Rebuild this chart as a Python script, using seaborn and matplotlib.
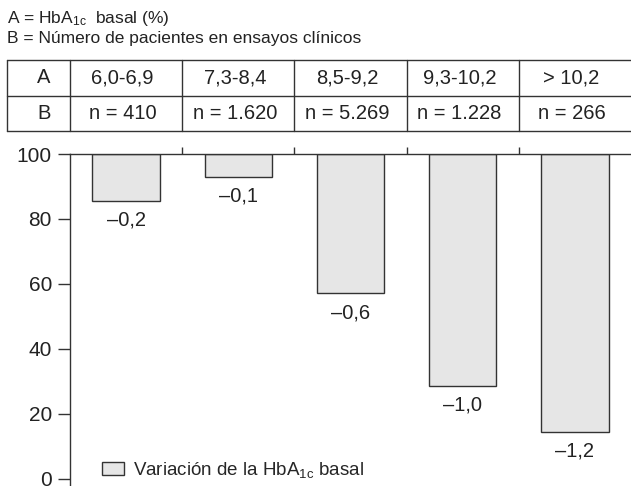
import matplotlib
matplotlib.use("Agg")
import matplotlib.pyplot as plt
import seaborn as sns
import pandas as pd

# values
hba1c_ranges = ["6,0-6,9", "7,3-8,4", "8,5-9,2", "9,3-10,2", "> 10,2"]
n_patients = ["n = 410", "n = 1.620", "n = 5.269", "n = 1.228", "n = 266"]
bar_bottom = [85.6, 92.9, 57.1, 28.6, 14.4]   # where each hanging bar ends
variation = ["\u20130,2", "\u20130,1", "\u20130,6", "\u20131,0", "\u20131,2"]

df = pd.DataFrame({"grupo": hba1c_ranges,
                   "delta": [b - 100 for b in bar_bottom]})

sns.set_style("ticks")
plt.rcParams["font.family"] = ["Liberation Sans", "DejaVu Sans"]
plt.rcParams["mathtext.default"] = "regular"
dark = "#333333"
txt = "#222222"

fig = plt.figure(figsize=(6.31, 4.86), dpi=100)
W, H = 631, 486

# main axes: left spine at x=70, y=100 at 154px, y=0 at 479px
ax = fig.add_axes([70 / W, 0, 1 - 70 / W, (H - 154) / H])
sns.barplot(data=df, x="grupo", y="delta", bottom=100, width=0.6,
            color="#e6e6e6", edgecolor=dark, linewidth=1.0, saturation=1,
            label="Variación de la HbA$_{1c}$ basal", ax=ax)

ax.set_xlim(-0.5, 4.5)
ax.set_ylim(-2.2, 100)
ax.set_yticks([0, 20, 40, 60, 80, 100])
ax.tick_params(axis="y", labelsize=15, length=9, width=1, color=dark,
               labelcolor=txt, pad=4)
ax.xaxis.tick_top()
ax.set_xticks([0.5, 1.5, 2.5, 3.5])
ax.set_xticklabels([])
ax.tick_params(axis="x", length=5, width=1, color=dark)
ax.set_xlabel("")
ax.set_ylabel("")
for s in ["bottom", "right"]:
    ax.spines[s].set_visible(False)
for s in ["left", "top"]:
    ax.spines[s].set_color(dark)
    ax.spines[s].set_linewidth(1)

ax.bar_label(ax.containers[0], labels=variation, padding=7, fontsize=14.5,
             color=txt)

ax.legend(frameon=False, loc="center left", bbox_to_anchor=(0.057, 0.048),
          borderpad=0, borderaxespad=0, handlelength=1.2, handleheight=0.75,
          handletextpad=0.45, fontsize=13.5)

# table above the chart, sharing the category positions
left_col = -0.5 - 63 / 112.2
axt = fig.add_axes([7 / W, (H - 131) / H, 1 - 7 / W, 71 / H])
axt.set_xlim(left_col, 4.5)
axt.set_ylim(0, 2)
axt.axis("off")
for yy in [0, 1, 2]:
    axt.plot([left_col, 4.5], [yy, yy], color=dark, lw=1, clip_on=False)
for xx in [left_col, -0.5, 0.5, 1.5, 2.5, 3.5]:
    axt.plot([xx, xx], [0, 2], color=dark, lw=1, clip_on=False)
axt.text((left_col - 0.5) / 2 + 0.05, 1.5, "A", ha="center", va="center",
         fontsize=14.5, color=txt)
axt.text((left_col - 0.5) / 2 + 0.05, 0.5, "B", ha="center", va="center",
         fontsize=14.5, color=txt)
for i, (r, n) in enumerate(zip(hba1c_ranges, n_patients)):
    axt.text(i - 0.03, 1.5, r, ha="center", va="center", fontsize=14.5, color=txt)
    axt.text(i - 0.03, 0.5, n, ha="center", va="center", fontsize=14.5, color=txt)

fig.text(7 / W, 1 - 19 / H, "A = HbA$_{1c}$  basal (%)", ha="left",
         va="center", fontsize=12.5, color=txt)
fig.text(7 / W, 1 - 38 / H, "B = Número de pacientes en ensayos clínicos",
         ha="left", va="center", fontsize=12.5, color=txt)

fig.savefig("out.png", dpi=100)
